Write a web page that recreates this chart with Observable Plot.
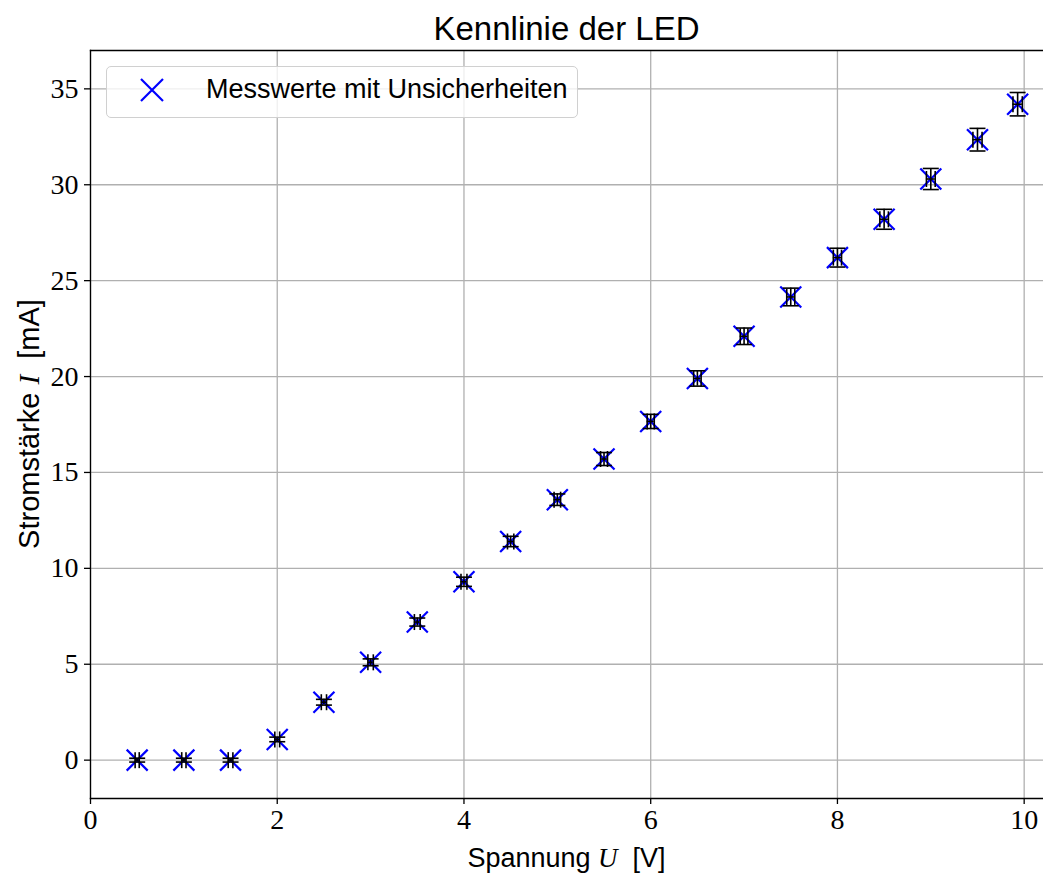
<!DOCTYPE html>
<html><head><meta charset="utf-8">
<script src="https://cdn.jsdelivr.net/npm/d3@7"></script>
<script src="https://cdn.jsdelivr.net/npm/@observablehq/plot@0.6"></script>
<style>
body{margin:0;background:#fff;}
#wrap{position:relative;width:1043px;height:875px;overflow:hidden;}
#title{height:45px;width:953px;margin-left:90px;text-align:center;font-family:"Liberation Sans",sans-serif;font-size:33px;line-height:58px;color:#000;}
#legend{position:absolute;left:106px;top:66px;width:470px;height:50px;border:1.3px solid #d0d0d0;border-radius:5px;background:rgba(255,255,255,0.8);}
#legend svg{position:absolute;left:33px;top:11px;}
#legend span{position:absolute;left:99px;top:7px;font-family:"Liberation Sans",sans-serif;font-size:27px;color:#000;}
</style></head><body>
<div id="wrap">
<div id="title">Kennlinie der LED</div>
<div id="chart"></div>
<div id="legend"><svg width="24" height="24"><path d="M1,1L23,23M23,1L1,23" stroke="#0000ff" stroke-width="2.2"/></svg><span>Messwerte mit Unsicherheiten</span></div>
</div>
<script>
// Measured values
const spannung = [0.5, 1.0, 1.5, 2.0, 2.5, 3.0, 3.5, 4.0, 4.5, 5.0, 5.5, 6.0, 6.5, 7.0, 7.5, 8.0, 8.5, 9.0, 9.5, 9.93];
const strom    = [0, 0, 0, 1.08, 3.02, 5.1, 7.2, 9.3, 11.4, 13.58, 15.7, 17.66, 19.9, 22.1, 24.15, 26.2, 28.2, 30.3, 32.35, 34.2];
const dU       = [0.022, 0.023, 0.025, 0.026, 0.028, 0.029, 0.031, 0.032, 0.034, 0.035, 0.037, 0.038, 0.040, 0.041, 0.043, 0.044, 0.046, 0.047, 0.049, 0.050];
const dI       = [0.10, 0.10, 0.10, 0.12, 0.15, 0.18, 0.21, 0.24, 0.27, 0.30, 0.34, 0.37, 0.40, 0.43, 0.46, 0.49, 0.52, 0.55, 0.59, 0.61];
const xTicks = [0, 2, 4, 6, 8, 10];
const yTicks = [0, 5, 10, 15, 20, 25, 30, 35];
const title = "Kennlinie der LED";
const legendLabel = "Messwerte mit Unsicherheiten";

const data = spannung.map((u, i) => ({U: u, I: strom[i], dU: dU[i], dI: dI[i]}));

// custom symbols (size = pi*r^2)
const rOf = s => Math.sqrt(s / Math.PI);
const crossX = {draw(c, s){const r = rOf(s); c.moveTo(-r,-r); c.lineTo(r,r); c.moveTo(r,-r); c.lineTo(-r,r);}};
const hCap = {draw(c, s){const r = rOf(s); c.moveTo(-r,0); c.lineTo(r,0);}};
const vCap = {draw(c, s){const r = rOf(s); c.moveTo(0,-r); c.lineTo(0,r);}};

const chart = Plot.plot({
  width: 1043,
  height: 830,
  marginTop: 5,
  marginLeft: 90,
  marginRight: 0,
  marginBottom: 77,
  style: {fontFamily: "'Liberation Serif', serif", fontSize: "28px", color: "#000", background: "#fff", overflow: "visible"},
  x: {domain: [0, 10.207], ticks: xTicks, tickFormat: d => String(d), label: null},
  y: {domain: [-2, 37], ticks: yTicks, tickFormat: d => String(d), label: null},
  marks: [
    Plot.gridX(xTicks, {stroke: "#b0b0b0", strokeOpacity: 1, strokeWidth: 1.3}),
    Plot.gridY(yTicks, {stroke: "#b0b0b0", strokeOpacity: 1, strokeWidth: 1.3}),
    Plot.frame({anchor: "left", stroke: "#000", strokeWidth: 1.3}),
    Plot.frame({anchor: "top", stroke: "#000", strokeWidth: 1.3}),
    Plot.frame({anchor: "bottom", stroke: "#000", strokeWidth: 1.3}),
    Plot.dot(data, {x: "U", y: "I", symbol: crossX, r: 10.5, fill: "none", stroke: "#0000ff", strokeWidth: 2.2}),
    Plot.ruleX(data, {x: "U", y1: d => d.I - d.dI, y2: d => d.I + d.dI, stroke: "#000", strokeWidth: 1.6}),
    Plot.ruleY(data, {y: "I", x1: d => d.U - d.dU, x2: d => d.U + d.dU, stroke: "#000", strokeWidth: 1.6}),
    Plot.dot(data, {x: "U", y: d => d.I + d.dI, symbol: hCap, r: 8, fill: "none", stroke: "#000", strokeWidth: 1.6}),
    Plot.dot(data, {x: "U", y: d => d.I - d.dI, symbol: hCap, r: 8, fill: "none", stroke: "#000", strokeWidth: 1.6}),
    Plot.dot(data, {x: d => d.U + d.dU, y: "I", symbol: vCap, r: 8, fill: "none", stroke: "#000", strokeWidth: 1.6}),
    Plot.dot(data, {x: d => d.U - d.dU, y: "I", symbol: vCap, r: 8, fill: "none", stroke: "#000", strokeWidth: 1.6}),
    Plot.axisX(xTicks, {tickSize: 6, tickPadding: 5, fontSize: 28, label: null, stroke: "#000", strokeWidth: 1.3}),
    Plot.axisY(yTicks, {tickSize: 6, tickPadding: 6, fontSize: 28, label: null, stroke: "#000", strokeWidth: 1.3})
  ]
});
document.getElementById("chart").appendChild(chart);

// Axis labels with mixed fonts (sans text, italic serif math symbol)
const svg = d3.select(chart);
const sans = "'Liberation Sans', sans-serif";
const serif = "'Liberation Serif', serif";
function addLabel(x, y, rot, size, parts) {
  const t = svg.append("text")
    .attr("transform", `translate(${x},${y}) rotate(${rot})`)
    .attr("text-anchor", "middle")
    .attr("font-size", size)
    .attr("fill", "#000");
  parts.forEach(([txt, it]) => {
    t.append("tspan").text(txt).attr("font-family", it ? serif : sans).attr("font-style", it ? "italic" : "normal");
  });
}
addLabel(90 + (1043 - 90) / 2, 870 - 45 - 3, 0, 27, [["Spannung ", false], ["U", true], ["\u00a0 [V]", false]]);
addLabel(39, 5 + (830 - 5 - 77) / 2, -90, 29, [["Stromstärke ", false], ["I", true], ["\u00a0 [mA]", false]]);
document.getElementById("title").textContent = title;
document.querySelector("#legend span").textContent = legendLabel;
</script>
</body></html>
